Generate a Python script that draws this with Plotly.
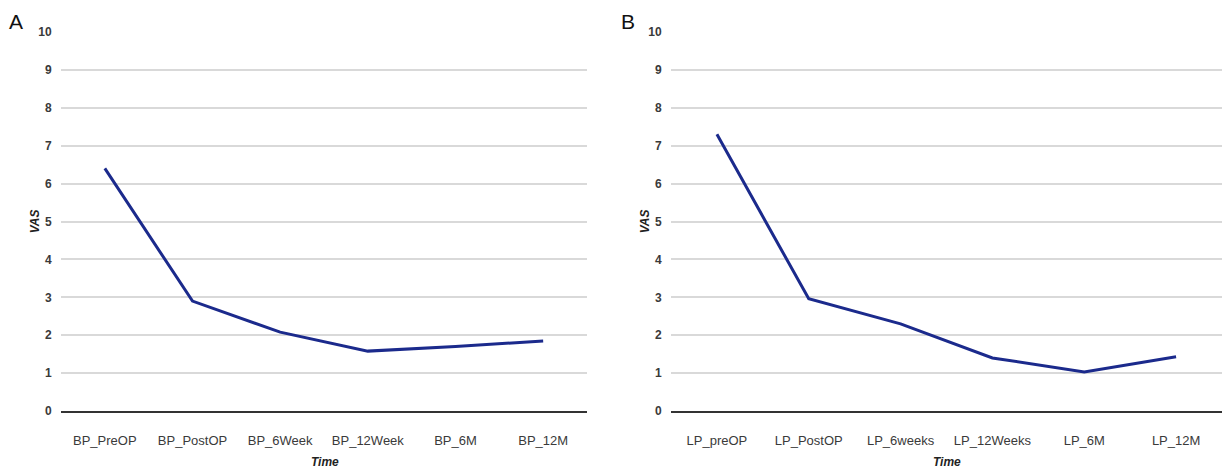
import plotly.graph_objects as go

cats_a = ["BP_PreOP", "BP_PostOP", "BP_6Week", "BP_12Week", "BP_6M", "BP_12M"]
vals_a = [6.4, 2.9, 2.08, 1.58, 1.7, 1.85]
cats_b = ["LP_preOP", "LP_PostOP", "LP_6weeks", "LP_12Weeks", "LP_6M", "LP_12M"]
vals_b = [7.3, 2.96, 2.3, 1.4, 1.03, 1.43]
y_ticks = list(range(0, 11))

W, H = 1222, 471
top_px, bot_px = 31.7, 410.7
line_color = "#1b2a8c"
txt_color = "#3a3a3a"
font_fam = "Liberation Sans"

fig = go.Figure()
fig.add_trace(go.Scatter(x=cats_a, y=vals_a, mode="lines", line=dict(color=line_color, width=3),
                         xaxis="x", yaxis="y", showlegend=False))
fig.add_trace(go.Scatter(x=cats_b, y=vals_b, mode="lines", line=dict(color=line_color, width=3),
                         xaxis="x2", yaxis="y2", showlegend=False))

def xax(domain, anchor):
    return dict(domain=domain, anchor=anchor, type="category", range=[-0.5, 5.5],
                showgrid=False, showline=True, linecolor="#333333", linewidth=2,
                ticks="outside", ticklen=16, tickcolor="rgba(0,0,0,0)",
                tickfont=dict(family=font_fam, size=13, color=txt_color),
                zeroline=False, fixedrange=True)

def yax(anchor):
    return dict(domain=[0, 1], anchor=anchor, range=[0, 10], tickvals=y_ticks,
                showgrid=True, gridcolor="#d9d9d9", gridwidth=1.5, showline=False,
                zeroline=False, ticks="outside", ticklen=6, tickcolor="rgba(0,0,0,0)",
                tickfont=dict(family=font_fam, size=12, color=txt_color, weight="bold"),
                fixedrange=True)

xa_dom = [61 / W, 587 / W]
xb_dom = [671 / W, 1.0]

def py(p):
    return (bot_px - p) / (bot_px - top_px)

def px(p):
    return p / W

annotations = [
    dict(text="A", x=px(16), y=py(21), xref="paper", yref="paper", showarrow=False,
         font=dict(family=font_fam, size=21, color="#111111"), xanchor="center", yanchor="middle"),
    dict(text="B", x=px(628), y=py(21), xref="paper", yref="paper", showarrow=False,
         font=dict(family=font_fam, size=21, color="#111111"), xanchor="center", yanchor="middle"),
    dict(text="<b><i>VAS</i></b>", x=px(35), y=py(221), xref="paper", yref="paper", showarrow=False,
         textangle=-90, font=dict(family=font_fam, size=12, color="#222222"), xanchor="center", yanchor="middle"),
    dict(text="<b><i>VAS</i></b>", x=px(645), y=py(221), xref="paper", yref="paper", showarrow=False,
         textangle=-90, font=dict(family=font_fam, size=12, color="#222222"), xanchor="center", yanchor="middle"),
    dict(text="<b><i>Time</i></b>", x=px(325), y=py(462), xref="paper", yref="paper", showarrow=False,
         font=dict(family=font_fam, size=12, color="#222222"), xanchor="center", yanchor="middle"),
    dict(text="<b><i>Time</i></b>", x=px(947), y=py(462), xref="paper", yref="paper", showarrow=False,
         font=dict(family=font_fam, size=12, color="#222222"), xanchor="center", yanchor="middle"),
]

fig.update_layout(
    width=W, height=H,
    margin=dict(l=0, r=0, t=top_px, b=H - bot_px),
    paper_bgcolor="white", plot_bgcolor="white",
    xaxis=xax(xa_dom, "y"), yaxis=yax("x"),
    xaxis2=xax(xb_dom, "y2"), yaxis2=yax("x2"),
    annotations=annotations,
)

fig.write_html("out.html", config={"displayModeBar": False},
               post_script="document.body.style.margin='0';document.body.style.overflow='hidden';")
